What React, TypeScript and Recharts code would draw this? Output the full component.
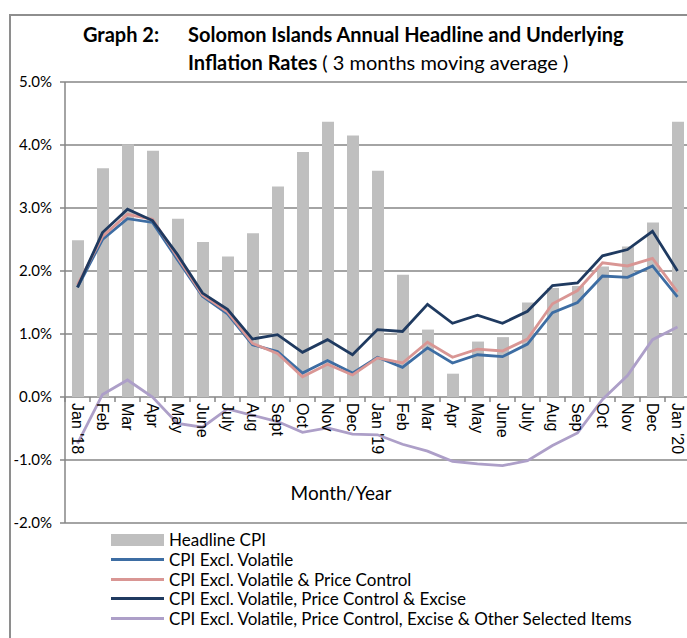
import { ComposedChart, Bar, Line, XAxis, YAxis, CartesianGrid, Legend } from 'recharts';

const months = [
  "Jan '18", 'Feb', 'Mar', 'Apr', 'May', 'June', 'July', 'Aug', 'Sept', 'Oct', 'Nov', 'Dec',
  "Jan '19", 'Feb', 'Mar', 'Apr', 'May', 'June', 'July', 'Aug', 'Sep', 'Oct', 'Nov', 'Dec', "Jan '20",
];
const headline = [2.49, 3.63, 4.01, 3.91, 2.83, 2.46, 2.23, 2.6, 3.34, 3.89, 4.37, 4.15, 3.59, 1.94, 1.07, 0.37, 0.88, 0.95, 1.5, 1.73, 1.76, 2.07, 2.39, 2.77, 4.37];
const exclVolatile = [1.74, 2.5, 2.83, 2.77, 2.18, 1.6, 1.32, 0.83, 0.72, 0.38, 0.58, 0.38, 0.63, 0.47, 0.78, 0.54, 0.67, 0.64, 0.84, 1.34, 1.5, 1.92, 1.9, 2.08, 1.59];
const exclPriceControl = [1.78, 2.55, 2.9, 2.82, 2.22, 1.62, 1.35, 0.85, 0.69, 0.32, 0.52, 0.35, 0.62, 0.54, 0.87, 0.63, 0.76, 0.73, 0.92, 1.48, 1.69, 2.13, 2.08, 2.2, 1.67];
const exclExcise = [1.74, 2.61, 2.98, 2.8, 2.26, 1.65, 1.39, 0.92, 0.99, 0.71, 0.91, 0.67, 1.07, 1.04, 1.47, 1.17, 1.3, 1.17, 1.36, 1.77, 1.81, 2.24, 2.34, 2.63, 2.0];
const exclOther = [-0.74, 0.04, 0.27, 0.0, -0.42, -0.48, -0.19, -0.29, -0.39, -0.56, -0.49, -0.59, -0.6, -0.75, -0.86, -1.02, -1.06, -1.09, -1.01, -0.77, -0.57, -0.04, 0.34, 0.91, 1.11];
const yTicks = [-2, -1, 0, 1, 2, 3, 4, 5];

const data = months.map((month, i) => ({
  month,
  headline: headline[i],
  volatile: exclVolatile[i],
  priceControl: exclPriceControl[i],
  excise: exclExcise[i],
  other: exclOther[i],
}));

const series = [
  { key: 'volatile', name: 'CPI Excl. Volatile', color: '#3d6da3' },
  { key: 'priceControl', name: 'CPI Excl. Volatile & Price Control', color: '#d99694' },
  { key: 'excise', name: 'CPI Excl. Volatile, Price Control & Excise', color: '#1f3a60' },
  { key: 'other', name: 'CPI Excl. Volatile, Price Control, Excise & Other Selected Items', color: '#ad9fc8' },
];

const CHART_W = 700;
const CHART_H = 638;
const MARGIN = { top: 82, right: 10, bottom: 114, left: 0 };
const Y_AXIS_W = 65;
const X_AXIS_H = 1;
const PLOT_H = CHART_H - MARGIN.top - MARGIN.bottom - X_AXIS_H;
const BAND = (CHART_W - MARGIN.left - MARGIN.right - Y_AXIS_W) / months.length;
const Y_MIN = -2;
const Y_MAX = 5;
const ZERO_Y = MARGIN.top + (PLOT_H * Y_MAX) / (Y_MAX - Y_MIN);
const GRID = '#868686';

// Excel puts the category axis on the 0% line, so draw the labels there
function MonthTick(props: any) {
  const { x, payload, index } = props;
  const last = index === months.length - 1;
  return (
    <g>
      <line x1={x - BAND / 2} x2={x - BAND / 2} y1={ZERO_Y} y2={ZERO_Y + 5} stroke={GRID} strokeWidth={1.5} />
      {last && <line x1={x + BAND / 2} x2={x + BAND / 2} y1={ZERO_Y} y2={ZERO_Y + 5} stroke={GRID} strokeWidth={1.5} />}
      <text
        transform={`translate(${x},${ZERO_Y + 6}) rotate(90)`}
        textAnchor="start"
        dominantBaseline="central"
        fontFamily="'Liberation Sans', Arial, sans-serif"
        fontSize={16}
        fill="#000"
      >
        {payload.value}
      </text>
    </g>
  );
}

function LegendBox() {
  const row = { display: 'flex', alignItems: 'center', height: 19.7 } as const;
  const label = { marginLeft: 5, fontSize: 17, color: '#000', whiteSpace: 'nowrap' as const };
  return (
    <div style={{ fontFamily: 'Lato, sans-serif' }}>
      <div style={row}>
        <div style={{ width: 53, height: 12, background: '#bfbfbf' }} />
        <span style={label}>Headline CPI</span>
      </div>
      {series.map((s) => (
        <div key={s.key} style={row}>
          <div style={{ width: 53, height: 3, background: s.color }} />
          <span style={label}>{s.name}</span>
        </div>
      ))}
    </div>
  );
}

export default function App() {
  return (
    <div style={styles.page}>
      <div style={styles.frame} />
      <div style={{ ...styles.title, left: 83, top: 22 }}>Graph 2:</div>
      <div style={{ ...styles.title, left: 188, top: 22 }}>Solomon Islands Annual Headline and Underlying</div>
      <div style={{ ...styles.title, left: 188, top: 50 }}>
        Inflation Rates<span style={{ fontWeight: 400 }}> ( 3 months moving average )</span>
      </div>
      <div style={styles.axisTitle}>Month/Year</div>
      <div style={{ position: 'absolute', left: 0, top: 0 }}>
        <ComposedChart width={CHART_W} height={CHART_H} data={data} margin={MARGIN}>
          <CartesianGrid vertical={false} stroke={GRID} strokeWidth={1.5} />
          <XAxis
            dataKey="month"
            height={X_AXIS_H}
            interval={0}
            axisLine={false}
            tickLine={false}
            tick={<MonthTick />}
          />
          <YAxis
            width={Y_AXIS_W}
            domain={[Y_MIN, Y_MAX]}
            ticks={yTicks}
            interval={0}
            tickFormatter={(v: number) => `${v.toFixed(1)}%`}
            axisLine={{ stroke: GRID, strokeWidth: 1.5 }}
            tickLine={{ stroke: GRID, strokeWidth: 1.5 }}
            tickSize={5}
            tickMargin={8}
            tick={{ fontSize: 15, fill: '#000', fontFamily: 'Lato, sans-serif' }}
          />
          <Bar dataKey="headline" name="Headline CPI" fill="#bfbfbf" barSize={12} isAnimationActive={false} />
          {series.map((s) => (
            <Line
              key={s.key}
              type="linear"
              dataKey={s.key}
              name={s.name}
              stroke={s.color}
              strokeWidth={2.8}
              dot={false}
              activeDot={false}
              isAnimationActive={false}
            />
          ))}
          <Legend
            layout="vertical"
            verticalAlign="middle"
            align="center"
            content={<LegendBox />}
            wrapperStyle={{ left: 111, top: 530, width: 570 }}
          />
        </ComposedChart>
      </div>
    </div>
  );
}

const styles = {
  page: {
    position: 'absolute' as const,
    left: 0,
    top: 0,
    width: 687,
    height: 638,
    overflow: 'hidden',
    background: '#fff',
    fontFamily: 'Lato, sans-serif',
  },
  frame: {
    position: 'absolute' as const,
    left: 9,
    top: 14,
    width: 720,
    height: 700,
    borderTop: '2px solid #8e8e8e',
    borderLeft: '2px solid #8e8e8e',
  },
  title: {
    position: 'absolute' as const,
    fontSize: 20,
    fontWeight: 700,
    lineHeight: '24px',
    color: '#000',
    whiteSpace: 'nowrap' as const,
  },
  axisTitle: {
    position: 'absolute' as const,
    left: 241,
    width: 200,
    top: 480,
    textAlign: 'center' as const,
    fontSize: 19,
    lineHeight: '26px',
    color: '#000',
  },
};
